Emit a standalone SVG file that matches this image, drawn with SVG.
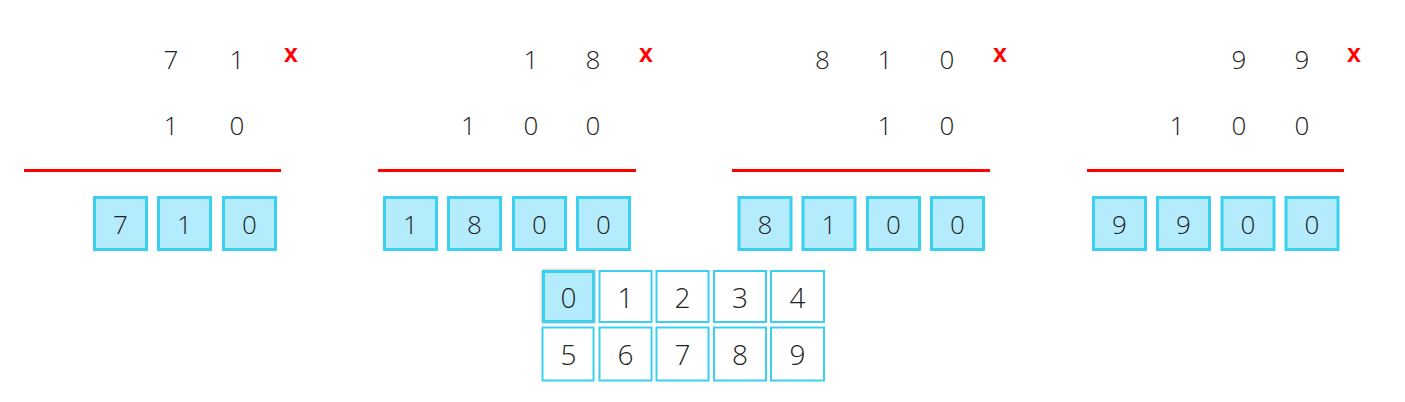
<svg xmlns="http://www.w3.org/2000/svg" width="1405" height="402" viewBox="0 0 1405 402">
<style>
.d{font-family:"Open Sans","Noto Sans",sans-serif;font-weight:300;font-size:26px;fill:#222;text-anchor:middle}
.k{font-family:"Open Sans","Noto Sans",sans-serif;font-weight:300;font-size:28px;fill:#222;text-anchor:middle}
.x{font-family:"Liberation Sans",Arial,sans-serif;font-weight:bold;font-size:25px;fill:#f00;text-anchor:middle}
.rl{stroke:#f00;stroke-width:3}
.b{fill:#b5ecfd;stroke:#3cd0f0;stroke-width:3}
.kb{fill:#fff;stroke:#3cd0f0;stroke-width:2}
.ks{fill:#b5ecfd;stroke:#3cd0f0;stroke-width:3}
</style>
<defs>
<filter id="sh" x="-20%" y="-20%" width="140%" height="140%">
<feDropShadow dx="0" dy="0" stdDeviation="1.5" flood-color="#000" flood-opacity="0.35"/>
</filter>
</defs>
<rect width="1405" height="402" fill="#fff"/>

<g id="panel1">
<text class="d" x="171" y="69">7</text><text class="d" x="237" y="69">1</text>
<text class="x" x="291" y="62">x</text>
<text class="d" x="171" y="135">1</text><text class="d" x="237" y="135">0</text>
<line class="rl" x1="24" y1="170.5" x2="281" y2="170.5"/>
<rect class="b" x="94.5" y="197.5" width="52" height="52"/><text class="d" x="120.5" y="234">7</text>
<rect class="b" x="158.5" y="197.5" width="52" height="52"/><text class="d" x="184.5" y="234">1</text>
<rect class="b" x="223.5" y="197.5" width="52" height="52"/><text class="d" x="249.5" y="234">0</text>
</g>

<g id="panel2">
<text class="d" x="531" y="69">1</text><text class="d" x="593" y="69">8</text>
<text class="x" x="646" y="62">x</text>
<text class="d" x="468.5" y="135">1</text><text class="d" x="531" y="135">0</text><text class="d" x="593" y="135">0</text>
<line class="rl" x1="378" y1="170.5" x2="636" y2="170.5"/>
<rect class="b" x="384.5" y="197.5" width="52" height="52"/><text class="d" x="410.5" y="234">1</text>
<rect class="b" x="448.5" y="197.5" width="52" height="52"/><text class="d" x="474.5" y="234">8</text>
<rect class="b" x="513.5" y="197.5" width="52" height="52"/><text class="d" x="539.5" y="234">0</text>
<rect class="b" x="577.5" y="197.5" width="52" height="52"/><text class="d" x="603.5" y="234">0</text>
</g>

<g id="panel3">
<text class="d" x="822.5" y="69">8</text><text class="d" x="885" y="69">1</text><text class="d" x="947" y="69">0</text>
<text class="x" x="1000" y="62">x</text>
<text class="d" x="885" y="135">1</text><text class="d" x="947" y="135">0</text>
<line class="rl" x1="732" y1="170.5" x2="990" y2="170.5"/>
<rect class="b" x="739" y="197.5" width="52" height="52"/><text class="d" x="765" y="234">8</text>
<rect class="b" x="803" y="197.5" width="52" height="52"/><text class="d" x="829" y="234">1</text>
<rect class="b" x="867.5" y="197.5" width="52" height="52"/><text class="d" x="893.5" y="234">0</text>
<rect class="b" x="931.5" y="197.5" width="52" height="52"/><text class="d" x="957.5" y="234">0</text>
</g>

<g id="panel4">
<text class="d" x="1239" y="69">9</text><text class="d" x="1302" y="69">9</text>
<text class="x" x="1354" y="62">x</text>
<text class="d" x="1177" y="135">1</text><text class="d" x="1239" y="135">0</text><text class="d" x="1302" y="135">0</text>
<line class="rl" x1="1087" y1="170.5" x2="1344" y2="170.5"/>
<rect class="b" x="1093.5" y="197.5" width="52" height="52"/><text class="d" x="1119.5" y="234">9</text>
<rect class="b" x="1157.5" y="197.5" width="52" height="52"/><text class="d" x="1183.5" y="234">9</text>
<rect class="b" x="1222" y="197.5" width="52" height="52"/><text class="d" x="1248" y="234">0</text>
<rect class="b" x="1286" y="197.5" width="52" height="52"/><text class="d" x="1312" y="234">0</text>
</g>

<g id="keypad">
<rect class="ks" x="543.5" y="271.5" width="50" height="50" filter="url(#sh)"/><text class="k" x="568.5" y="308">0</text>
<rect class="kb" x="599.5" y="271" width="52" height="51"/><text class="k" x="625.5" y="308">1</text>
<rect class="kb" x="656.5" y="271" width="52" height="51"/><text class="k" x="682.5" y="308">2</text>
<rect class="kb" x="714" y="271" width="52" height="51"/><text class="k" x="740" y="308">3</text>
<rect class="kb" x="771" y="271" width="53" height="51"/><text class="k" x="797.5" y="308">4</text>
<rect class="kb" x="542.5" y="327.5" width="51" height="53"/><text class="k" x="568.5" y="365">5</text>
<rect class="kb" x="599.5" y="327.5" width="52" height="53"/><text class="k" x="625.5" y="365">6</text>
<rect class="kb" x="656.5" y="327.5" width="52" height="53"/><text class="k" x="682.5" y="365">7</text>
<rect class="kb" x="714" y="327.5" width="52" height="53"/><text class="k" x="740" y="365">8</text>
<rect class="kb" x="771" y="327.5" width="53" height="53"/><text class="k" x="797.5" y="365">9</text>
</g>
</svg>
